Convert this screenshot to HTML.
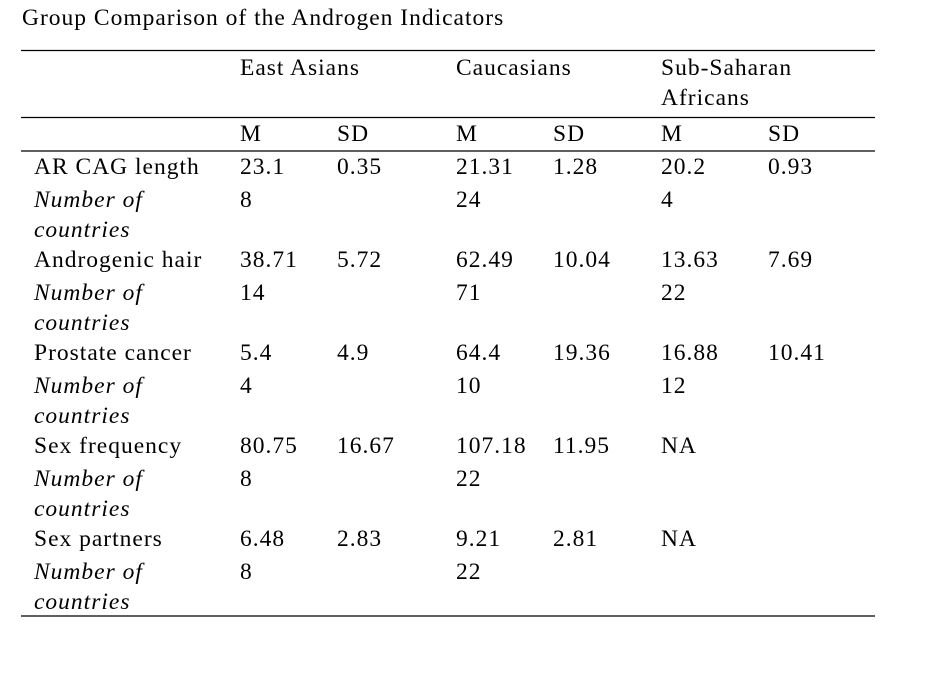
<!DOCTYPE html>
<html><head><meta charset="utf-8"><style>
html,body{margin:0;padding:0;background:#fff;}
svg{display:block;}
text{font-family:"Liberation Serif",serif;font-size:23.5px;letter-spacing:1px;fill:#000;}
.i{font-style:italic;}
</style></head><body>
<svg width="942" height="689" xmlns="http://www.w3.org/2000/svg">
<text x="22" y="25" style="font-size:23.5px">Group Comparison of the Androgen Indicators</text>
<g stroke="#000" stroke-width="1.3">
<line x1="21" y1="50.5" x2="875" y2="50.5"/>
<line x1="21" y1="117.5" x2="875" y2="117.5"/>
<line x1="21" y1="151" x2="875" y2="151"/>
<line x1="21" y1="616" x2="875" y2="616"/>
</g>
<text x="240" y="75">East Asians</text>
<text x="456" y="75">Caucasians</text>
<text x="661" y="75">Sub-Saharan</text>
<text x="661" y="105">Africans</text>
<text x="240" y="141">M</text><text x="337" y="141">SD</text>
<text x="456" y="141">M</text><text x="553" y="141">SD</text>
<text x="661" y="141">M</text><text x="768" y="141">SD</text>

<g transform="translate(0,0)">
<text x="34" y="174">AR CAG length</text><text x="240" y="174">23.1</text><text x="337" y="174">0.35</text><text x="456" y="174">21.31</text><text x="553" y="174">1.28</text><text x="661" y="174">20.2</text><text x="768" y="174">0.93</text>
<text class="i" x="34" y="207">Number of</text><text x="240" y="207">8</text><text x="456" y="207">24</text><text x="661" y="207">4</text>
<text class="i" x="34" y="237">countries</text>
</g>
<g transform="translate(0,93)">
<text x="34" y="174">Androgenic hair</text><text x="240" y="174">38.71</text><text x="337" y="174">5.72</text><text x="456" y="174">62.49</text><text x="553" y="174">10.04</text><text x="661" y="174">13.63</text><text x="768" y="174">7.69</text>
<text class="i" x="34" y="207">Number of</text><text x="240" y="207">14</text><text x="456" y="207">71</text><text x="661" y="207">22</text>
<text class="i" x="34" y="237">countries</text>
</g>
<g transform="translate(0,186)">
<text x="34" y="174">Prostate cancer</text><text x="240" y="174">5.4</text><text x="337" y="174">4.9</text><text x="456" y="174">64.4</text><text x="553" y="174">19.36</text><text x="661" y="174">16.88</text><text x="768" y="174">10.41</text>
<text class="i" x="34" y="207">Number of</text><text x="240" y="207">4</text><text x="456" y="207">10</text><text x="661" y="207">12</text>
<text class="i" x="34" y="237">countries</text>
</g>
<g transform="translate(0,279)">
<text x="34" y="174">Sex frequency</text><text x="240" y="174">80.75</text><text x="337" y="174">16.67</text><text x="456" y="174">107.18</text><text x="553" y="174">11.95</text><text x="661" y="174">NA</text>
<text class="i" x="34" y="207">Number of</text><text x="240" y="207">8</text><text x="456" y="207">22</text>
<text class="i" x="34" y="237">countries</text>
</g>
<g transform="translate(0,372)">
<text x="34" y="174">Sex partners</text><text x="240" y="174">6.48</text><text x="337" y="174">2.83</text><text x="456" y="174">9.21</text><text x="553" y="174">2.81</text><text x="661" y="174">NA</text>
<text class="i" x="34" y="207">Number of</text><text x="240" y="207">8</text><text x="456" y="207">22</text>
<text class="i" x="34" y="237">countries</text>
</g>
</svg>
</body></html>
